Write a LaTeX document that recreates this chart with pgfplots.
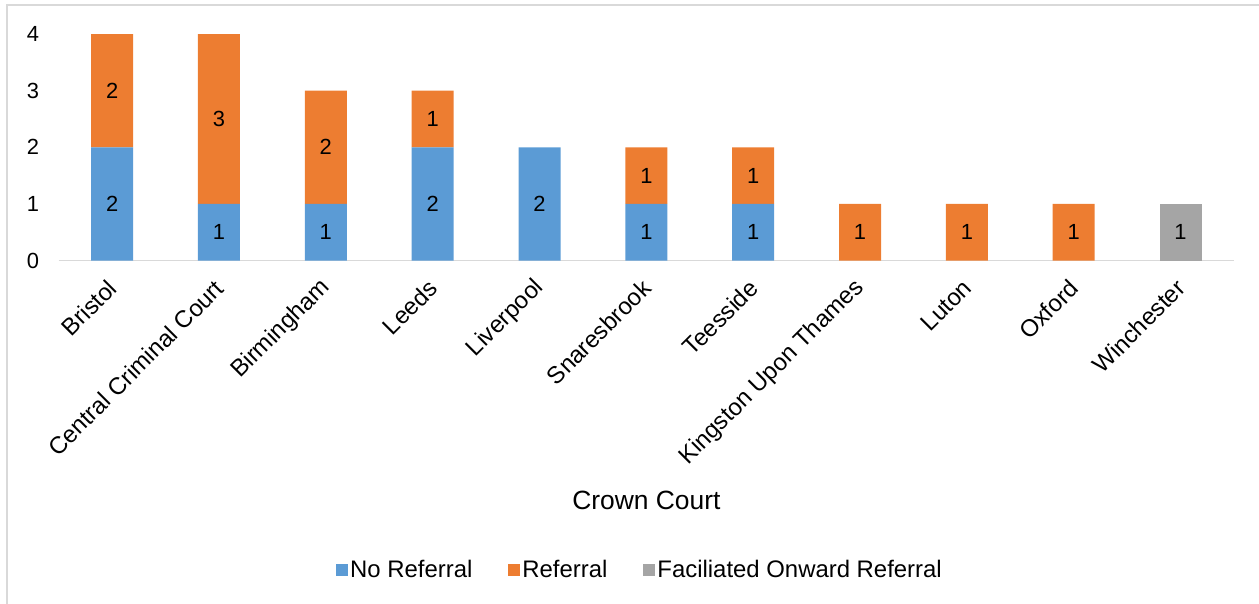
\documentclass[border=0pt]{standalone}
\usepackage{pgfplots}
\usepackage{pgfplotstable}
\pgfplotsset{compat=1.18}
\usepackage{fontspec}
\setmainfont{Liberation Sans}

\definecolor{noref}{HTML}{5B9BD5}
\definecolor{referral}{HTML}{ED7D31}
\definecolor{onward}{HTML}{A5A5A5}
\definecolor{framegray}{HTML}{D9D9D9}

% Outcomes per Crown Court (idx = position on the x axis)
\pgfplotstableread{
idx none referral onward
0   2    2        0
1   1    3        0
2   1    2        0
3   2    1        0
4   2    0        0
5   1    1        0
6   1    1        0
7   0    1        0
8   0    1        0
9   0    1        0
10  0    0        1
}\courts

\begin{document}
\begin{tikzpicture}
\useasboundingbox (0,0) rectangle (1259bp,-604bp);
\draw[framegray, line width=1.5bp] (7bp,-604bp) -- (7bp,-5bp) -- (1259bp,-5bp);
\begin{axis}[
  at={(58.7bp,-260.5bp)}, anchor=south west,
  scale only axis, width=1175.3bp, height=226.5bp,
  xmin=-0.5, xmax=10.5, ymin=0, ymax=4,
  ybar stacked, bar width=42bp,
  axis x line*=bottom, axis y line*=left,
  x axis line style={framegray, line width=1.5bp, -},
  y axis line style={draw=none},
  major tick length=0pt,
  xtick={0,...,10},
  xticklabels={Bristol, Central Criminal Court, Birmingham, Leeds, Liverpool,
    Snaresbrook, Teesside, Kingston Upon Thames, Luton, Oxford, Winchester},
  xticklabel style={font=\fontsize{24}{24}\selectfont, rotate=45, anchor=east,
    xshift=-13bp, yshift=-17bp},
  ytick={0,1,2,3,4},
  yticklabel style={font=\fontsize{22}{22}\selectfont, xshift=-16bp},
  /pgf/number format/assume math mode=true,
  xlabel={Crown Court},
  xlabel style={font=\fontsize{26.5}{26.5}\selectfont, at={(axis description cs:0.5,-1.0574)}, anchor=center},
  point meta=rawy,
  nodes near coords={\pgfmathfloatifflags{\pgfplotspointmeta}{0}{}{\pgfmathprintnumber{\pgfplotspointmeta}}},
  every node near coord/.append style={font=\fontsize{22}{22}\selectfont, black,
    anchor=center},
  legend style={draw=none, legend columns=3, font=\fontsize{24}{24}\selectfont,
    at={(axis description cs:0.4946,-1.366)}, anchor=center,
    /tikz/every even column/.append style={column sep=34bp}},
  legend image code/.code={\fill[#1] (0bp,-6bp) rectangle (12bp,6bp);},
]
\addplot[fill=noref, draw=none] table[x=idx, y=none] {\courts};
\addplot[fill=referral, draw=none] table[x=idx, y=referral] {\courts};
\addplot[fill=onward, draw=none] table[x=idx, y=onward] {\courts};
\legend{No Referral, Referral, Faciliated Onward Referral}
\end{axis}
\end{tikzpicture}
\end{document}
